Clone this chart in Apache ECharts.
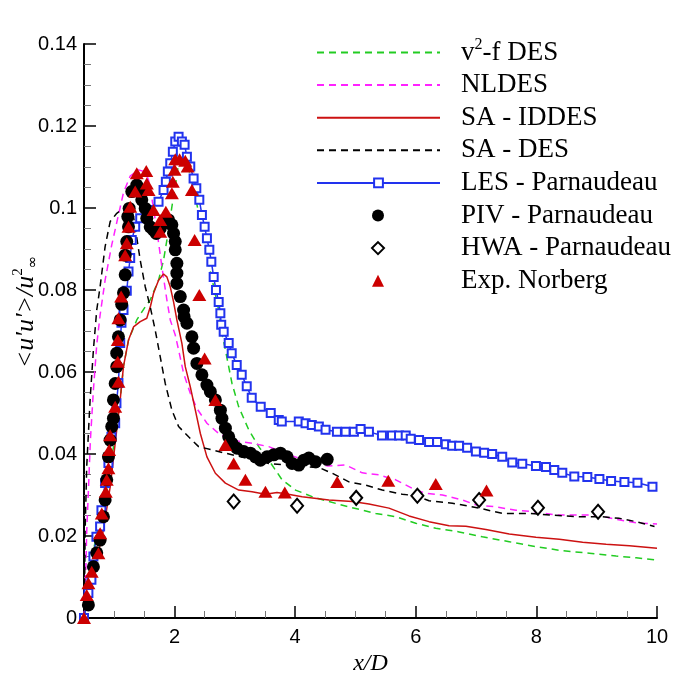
<!DOCTYPE html>
<html>
<head>
<meta charset="utf-8">
<script src="https://cdn.jsdelivr.net/npm/echarts@6/dist/echarts.min.js"></script>
<style>html,body{margin:0;padding:0;background:#fff}#c{width:690px;height:688px}</style>
</head>
<body>
<div id="c"></div>
<script>
// ---- data (x/D, <u'u'>/u∞²) ----
const xMajorTicks = [2, 4, 6, 8, 10];
const xMinorTicks = [1, 1.5, 2.5, 3, 3.5, 4.5, 5, 5.5, 6.5, 7, 7.5, 8.5, 9, 9.5];

const v2fDES = [[0.5,0],[0.545,0.006],[0.628,0.0141],[0.711,0.0207],[0.85,0.0271],[0.934,0.0369],[1.017,0.0442],[1.1,0.0532],[1.154,0.0613],[1.238,0.0678],[1.375,0.0727],[1.515,0.0759],[1.598,0.0776],[1.736,0.0824],[1.819,0.0873],[1.902,0.0946],[1.957,0.1003],[2.013,0.1052],[2.068,0.1109],[2.123,0.1133],[2.206,0.1109],[2.317,0.1052],[2.4,0.0987],[2.483,0.0922],[2.566,0.0865],[2.65,0.0808],[2.733,0.0751],[2.787,0.0694],[2.844,0.0654],[2.954,0.0572],[3.065,0.0515],[3.231,0.0459],[3.397,0.0418],[3.563,0.0385],[3.784,0.0337],[4.007,0.0312],[4.282,0.0296],[4.56,0.0284],[4.892,0.0271],[5.336,0.0255],[5.668,0.0247],[6.0,0.0231],[6.332,0.0219],[6.719,0.021],[7.106,0.0198],[7.55,0.0186],[7.993,0.0174],[8.435,0.0164],[8.879,0.0158],[9.322,0.0151],[9.654,0.0147],[10,0.0141]];

const nlDES = [[0.5,0],[0.53,0.012],[0.545,0.021],[0.573,0.031],[0.606,0.0434],[0.656,0.0556],[0.711,0.0666],[0.767,0.0739],[0.85,0.0824],[0.96,0.091],[1.071,0.0983],[1.154,0.1037],[1.266,0.1078],[1.404,0.1093],[1.515,0.1088],[1.57,0.1068],[1.625,0.1024],[1.708,0.0946],[1.791,0.0857],[1.874,0.0776],[1.93,0.0727],[2.013,0.069],[2.068,0.0654],[2.151,0.0597],[2.262,0.0548],[2.372,0.0511],[2.538,0.0475],[2.733,0.045],[2.954,0.0434],[3.286,0.0426],[3.563,0.0418],[3.895,0.0398],[4.173,0.0385],[4.532,0.0371],[4.837,0.0373],[5.113,0.0354],[5.39,0.0349],[5.668,0.0337],[5.944,0.0316],[6.166,0.0304],[6.442,0.03],[6.774,0.0288],[6.997,0.0276],[7.329,0.0271],[7.661,0.0263],[7.993,0.0259],[8.326,0.0251],[8.658,0.0251],[8.99,0.0251],[9.322,0.0241],[9.654,0.0232],[10,0.0229]];

const saIDDES = [[0.5,0],[0.518,0.002],[0.601,0.0076],[0.711,0.0141],[0.822,0.0215],[0.934,0.032],[1.017,0.0426],[1.1,0.0532],[1.154,0.0613],[1.238,0.0678],[1.321,0.071],[1.432,0.0723],[1.541,0.0731],[1.603,0.0761],[1.653,0.0792],[1.736,0.0824],[1.819,0.0839],[1.874,0.0832],[1.93,0.0808],[1.985,0.0771],[2.04,0.0727],[2.123,0.067],[2.179,0.0613],[2.262,0.0564],[2.346,0.0507],[2.429,0.045],[2.538,0.0393],[2.678,0.0353],[2.844,0.0329],[3.065,0.0312],[3.286,0.0308],[3.508,0.0302],[3.7,0.0306],[3.84,0.0303],[4.116,0.0296],[4.56,0.0288],[4.947,0.0284],[5.224,0.0278],[5.556,0.0268],[5.889,0.0249],[6.221,0.0235],[6.553,0.0225],[6.831,0.0224],[7.163,0.0216],[7.55,0.0205],[7.993,0.0197],[8.38,0.0192],[8.767,0.0185],[9.156,0.018],[9.543,0.0176],[10,0.017]];

const saDES = [[0.5,0.002],[0.51,0.006],[0.518,0.0207],[0.545,0.0369],[0.601,0.0532],[0.656,0.0654],[0.711,0.0751],[0.767,0.0808],[0.85,0.0906],[0.934,0.0967],[1.043,0.0987],[1.154,0.0999],[1.238,0.0999],[1.321,0.0979],[1.432,0.0873],[1.515,0.0808],[1.598,0.0759],[1.681,0.0702],[1.764,0.0637],[1.847,0.0572],[1.957,0.0507],[2.068,0.0467],[2.234,0.0442],[2.4,0.0418],[2.621,0.041],[2.844,0.0402],[3.563,0.0377],[4.007,0.0371],[4.394,0.0367],[4.615,0.0353],[4.892,0.0332],[5.169,0.0324],[5.445,0.0312],[5.777,0.0302],[6.0,0.0298],[6.221,0.0286],[6.608,0.028],[7.051,0.0268],[7.439,0.0255],[7.882,0.0255],[8.269,0.0251],[8.713,0.0247],[9.1,0.0247],[9.377,0.0243],[9.654,0.0235],[9.959,0.0223]];

const lesParnaudeau = [[0.5,0],[0.573,0.0061],[0.623,0.0093],[0.656,0.015],[0.706,0.0198],[0.767,0.0223],[0.789,0.0263],[0.85,0.0329],[0.905,0.0378],[0.955,0.0442],[1.017,0.0475],[1.038,0.0524],[1.071,0.0573],[1.1,0.0671],[1.121,0.072],[1.155,0.0751],[1.209,0.0798],[1.238,0.0845],[1.266,0.0878],[1.292,0.0922],[1.349,0.0954],[1.432,0.0975],[1.57,0.0995],[1.736,0.1015],[1.819,0.1044],[1.857,0.1064],[1.89,0.1089],[1.93,0.1109],[1.973,0.1137],[2.013,0.1162],[2.068,0.1174],[2.123,0.1162],[2.168,0.1154],[2.206,0.1125],[2.262,0.1101],[2.317,0.1072],[2.362,0.1048],[2.412,0.102],[2.455,0.0983],[2.5,0.0954],[2.538,0.0926],[2.578,0.0898],[2.611,0.0869],[2.65,0.0832],[2.688,0.08],[2.733,0.0771],[2.761,0.0743],[2.775,0.0715],[2.816,0.0698],[2.899,0.0671],[2.949,0.0646],[3.032,0.0617],[3.115,0.0593],[3.198,0.0565],[3.281,0.0537],[3.43,0.0515],[3.596,0.05],[3.729,0.0483],[3.779,0.0479],[4.061,0.0479],[4.173,0.0475],[4.277,0.0471],[4.394,0.0467],[4.505,0.0459],[4.693,0.0454],[4.837,0.0454],[4.975,0.0454],[5.086,0.0461],[5.224,0.0454],[5.44,0.0445],[5.606,0.0445],[5.723,0.0445],[5.834,0.0445],[5.917,0.0437],[6.055,0.0434],[6.221,0.0429],[6.354,0.0429],[6.498,0.0424],[6.603,0.042],[6.719,0.042],[6.852,0.0415],[6.997,0.0406],[7.134,0.0403],[7.267,0.04],[7.434,0.0393],[7.6,0.0379],[7.766,0.0376],[7.993,0.0371],[8.159,0.0368],[8.297,0.0361],[8.43,0.0354],[8.629,0.0345],[8.845,0.0344],[9.045,0.0339],[9.239,0.0334],[9.46,0.0332],[9.676,0.033],[9.925,0.032]];

const pivParnaudeau = [[0.573,0.0032],[0.656,0.0125],[0.711,0.0159],[0.767,0.019],[0.822,0.0247],[0.85,0.0288],[0.877,0.0337],[0.905,0.0393],[0.933,0.0434],[0.96,0.0467],[0.988,0.0487],[0.988,0.0532],[1.017,0.0572],[1.043,0.0613],[1.043,0.0646],[1.071,0.0686],[1.1,0.0727],[1.125,0.0765],[1.155,0.0793],[1.183,0.0837],[1.183,0.0885],[1.209,0.0918],[1.238,0.0954],[1.226,0.0979],[1.249,0.0999],[1.292,0.104],[1.375,0.1056],[1.432,0.104],[1.458,0.102],[1.515,0.0999],[1.541,0.0975],[1.598,0.0954],[1.653,0.0946],[1.698,0.0938],[1.764,0.095],[1.819,0.0963],[1.902,0.0971],[1.957,0.0959],[1.985,0.0938],[2.013,0.0918],[2.013,0.0898],[2.04,0.0865],[2.04,0.0841],[2.04,0.0816],[2.096,0.0784],[2.151,0.0751],[2.16,0.0735],[2.206,0.0719],[2.289,0.0686],[2.317,0.0658],[2.372,0.0621],[2.455,0.0593],[2.538,0.0568],[2.595,0.0552],[2.678,0.0532],[2.761,0.0507],[2.787,0.0487],[2.844,0.0463],[2.899,0.0442],[2.954,0.0426],[3.037,0.0414],[3.148,0.0406],[3.259,0.0402],[3.342,0.0393],[3.425,0.0385],[3.535,0.0393],[3.646,0.0398],[3.757,0.0402],[3.867,0.0393],[3.95,0.0377],[4.061,0.0373],[4.145,0.0385],[4.228,0.039],[4.339,0.0381],[4.532,0.0387]];

const hwaParnaudeau = [[2.982,0.0284],[4.033,0.0274],[5.013,0.0293],[6.027,0.0298],[7.051,0.0288],[8.026,0.0269],[9.023,0.0259]];

const expNorberg = [[0.5,0],[0.545,0.0056],[0.573,0.0085],[0.628,0.0113],[0.739,0.0158],[0.767,0.0207],[0.795,0.0255],[0.861,0.0308],[0.877,0.0337],[0.905,0.0365],[0.917,0.041],[0.933,0.0446],[1.017,0.0515],[1.071,0.0576],[1.06,0.0625],[1.06,0.0678],[1.071,0.0731],[1.116,0.0784],[1.183,0.0885],[1.209,0.0914],[1.238,0.0954],[1.266,0.1003],[1.349,0.104],[1.375,0.1085],[1.532,0.109],[1.541,0.106],[1.57,0.1044],[1.653,0.0995],[1.764,0.0971],[1.764,0.0942],[1.857,0.0991],[1.957,0.1036],[1.973,0.1064],[2.002,0.1093],[2.013,0.1119],[2.085,0.1119],[2.179,0.1115],[2.218,0.1101],[2.289,0.1044],[2.334,0.0922],[2.412,0.0788],[2.5,0.0633],[2.678,0.0532],[2.844,0.0422],[2.982,0.0377],[3.176,0.0337],[3.508,0.0308],[3.829,0.0306],[4.698,0.0332],[5.545,0.0335],[6.332,0.0327],[7.173,0.0311]];

const lineNames = ['v2-f DES','NLDES','SA - IDDES','SA - DES','LES - Parnaudeau'];
const plainLineNames = ['v2-f DES','NLDES','SA - IDDES','SA - DES'];
const markerNames = ['PIV - Parnaudeau','HWA - Parnaudeau','Exp. Norberg'];

// ---- chart ----
const chart = echarts.init(document.getElementById('c'), null, {renderer: 'canvas'});
const dash = [7, 5];
const lineSeries = (name, data, color, type) => ({
  name, type: 'line', data, symbol: 'none', z: 2,
  lineStyle: {color, width: 1.5, type},
  itemStyle: {color}
});
const legendText = pad => ({
  fontFamily: 'Liberation Serif', fontSize: 27, color: '#000', lineHeight: 31,
  padding: [0, 0, 0, pad],
  rich: {sup: {fontFamily: 'Liberation Serif', fontSize: 16, color: '#000', verticalAlign: 'top', lineHeight: 22}}
});

const option = {
  animation: false,
  backgroundColor: '#fff',
  grid: {left: 84, right: 33, top: 44, bottom: 70},
  xAxis: [{
    type: 'value', min: 0.5, max: 10,
    axisLine: {lineStyle: {color: '#000', width: 2}},
    axisTick: {inside: true, length: 12, lineStyle: {color: '#000', width: 1.5}, customValues: xMajorTicks},
    axisLabel: {customValues: xMajorTicks, color: '#000', fontFamily: 'Liberation Sans', fontSize: 20, margin: 9},
    splitLine: {show: false},
    name: 'x/D', nameLocation: 'middle', nameGap: 30,
    nameTextStyle: {fontFamily: 'Liberation Serif', fontStyle: 'italic', fontSize: 24, color: '#000'}
  }, {
    type: 'value', min: 0.5, max: 10, gridIndex: 0, position: 'bottom',
    axisLine: {show: false},
    axisTick: {inside: true, length: 7, lineStyle: {color: '#777', width: 1}, customValues: xMinorTicks},
    axisLabel: {show: false},
    splitLine: {show: false}
  }],
  yAxis: {
    type: 'value', min: 0, max: 0.14, interval: 0.02,
    axisLine: {show: true, lineStyle: {color: '#000', width: 2}},
    axisTick: {show: true, inside: true, length: 12, lineStyle: {color: '#000', width: 1.5}},
    minorTick: {show: true, splitNumber: 4, length: 7, lineStyle: {color: '#777', width: 1}},
    axisLabel: {color: '#000', fontFamily: 'Liberation Sans', fontSize: 20, margin: 7},
    splitLine: {show: false}
  },
  legend: [{
    left: 316, top: 37, orient: 'vertical', padding: 0,
    itemWidth: 123, itemHeight: 11, itemGap: 1.6,
    data: lineNames.map(n => plainLineNames.includes(n)
      ? {name: n, itemStyle: {opacity: 0}}
      : {name: n}),
    formatter: n => n === 'v2-f DES' ? 'v{sup|2}-f DES' : n,
    textStyle: legendText(16)
  }, {
    left: 371, top: 37 + 5 * 32.6, orient: 'vertical', padding: 0,
    itemWidth: 12, itemHeight: 12, itemGap: 1.6,
    data: markerNames,
    textStyle: legendText(72)
  }],
  graphic: [{
    type: 'text', x: 26, y: 312, rotation: Math.PI / 2,
    style: {
      text: "<u'u'>/u{sup|2}{sub|∞}",
      font: 'italic 26px "Liberation Serif"', fill: '#000',
      align: 'center', verticalAlign: 'middle',
      rich: {
        sup: {font: '15px "Liberation Serif"', fill: '#000', verticalAlign: 'top', lineHeight: 30},
        sub: {font: '15px "DejaVu Sans"', fill: '#000', verticalAlign: 'bottom', lineHeight: 30}
      }
    }
  }],
  series: [
    lineSeries('v2-f DES', v2fDES, '#22cc22', dash),
    lineSeries('NLDES', nlDES, '#ff22ff', dash),
    lineSeries('SA - IDDES', saIDDES, '#cc1111', 'solid'),
    lineSeries('SA - DES', saDES, '#000000', dash),
    {
      name: 'LES - Parnaudeau', type: 'line', data: lesParnaudeau, z: 3,
      symbol: 'emptyRect', symbolSize: 8, showSymbol: true,
      lineStyle: {color: '#2233ee', width: 1.5},
      itemStyle: {color: '#2233ee', borderWidth: 1.5}
    },
    {
      name: 'PIV - Parnaudeau', type: 'scatter', data: pivParnaudeau, z: 4,
      symbol: 'circle', symbolSize: 13, itemStyle: {color: '#000', opacity: 1}
    },
    {
      name: 'HWA - Parnaudeau', type: 'scatter', data: hwaParnaudeau, z: 4,
      symbol: 'emptyDiamond', symbolSize: [12, 14], itemStyle: {color: '#000', borderWidth: 1.3, opacity: 1}
    },
    {
      name: 'Exp. Norberg', type: 'scatter', data: expNorberg, z: 5,
      symbol: 'triangle', symbolSize: [14, 12], itemStyle: {color: '#cc0000', opacity: 1}
    }
  ]
};
chart.setOption(option);
</script>
</body>
</html>
